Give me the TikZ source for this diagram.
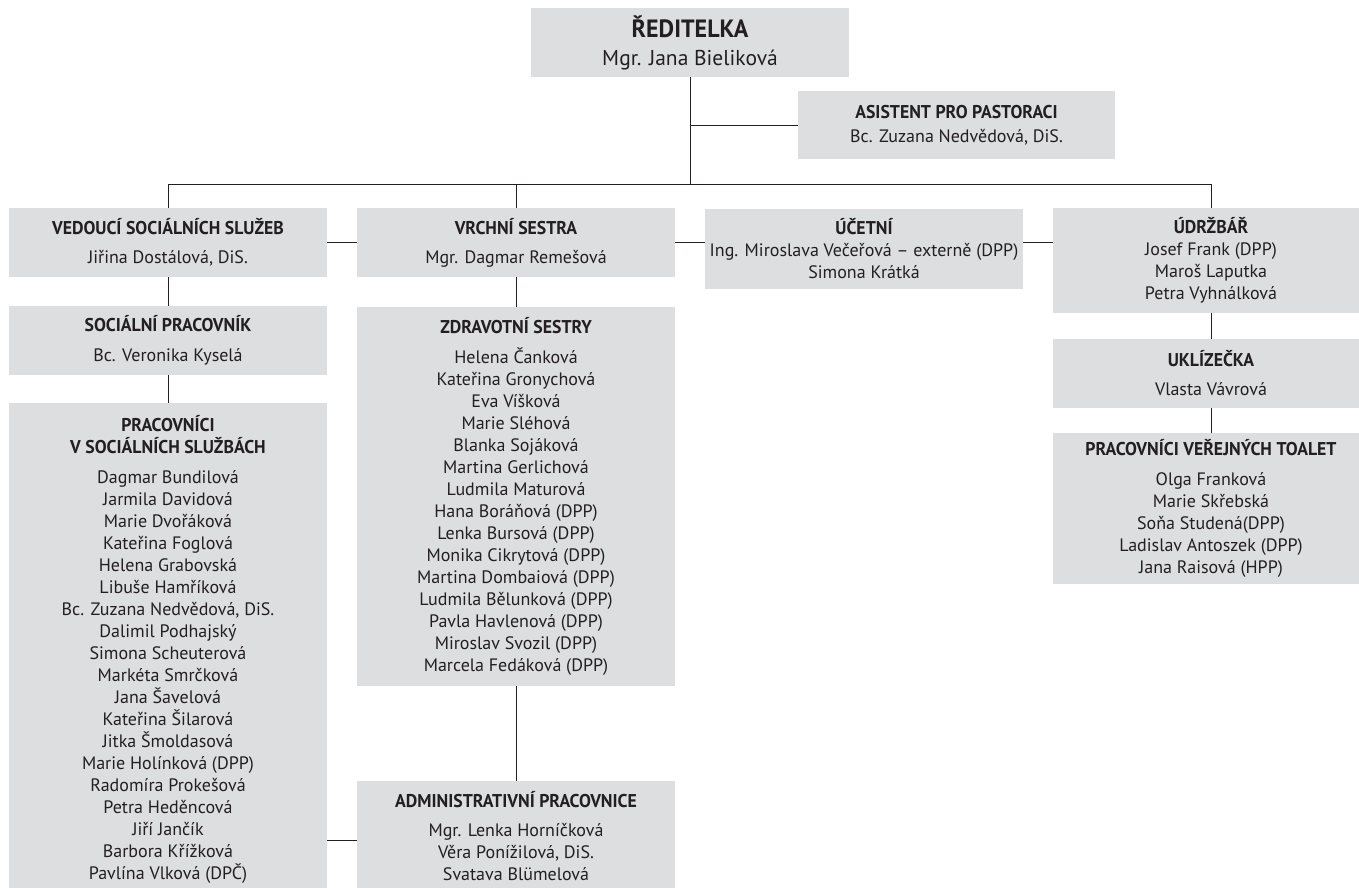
\documentclass[tikz,border=0pt]{standalone}
\usepackage{fontspec}
\setmainfont{PT Sans}
\newfontfamily\hdfont{PT Sans}[FakeStretch=0.96]
\definecolor{boxgray}{RGB}{221,222,224}
\definecolor{ink}{RGB}{35,31,32}
\newcommand\hd[1]{{\hdfont\bfseries\fontsize{18.5}{22}\selectfont #1}}
\newcommand\hdbig[1]{{\hdfont\bfseries\fontsize{25}{28}\selectfont #1}}
\tikzset{
  orgbox/.style={fill=boxgray, inner sep=0pt, minimum width=318pt, align=center, text=ink, font=\fontsize{18}{22}\selectfont},
  link/.style={draw=ink, line width=0.8pt},
}
\begin{document}
\begin{tikzpicture}[x=1pt,y=-1pt]
\useasboundingbox (0,0) rectangle (1359,888);
\clip (0,0) rectangle (1359,888);
% boxes
\node[orgbox, minimum height=69pt, font=\fontsize{21.5}{28}\selectfont] (dir) at (690,42.5) {\hdbig{ŘEDITELKA}\\Mgr. Jana Bieliková};
\node[orgbox, minimum width=317pt, minimum height=68pt] (asist) at (956.5,125) {\hd{ASISTENT PRO PASTORACI}\\[2pt]Bc. Zuzana Nedvědová, DiS.};
\node[orgbox, minimum height=69pt] (vedouci) at (168,242.5) {\hd{VEDOUCÍ SOCIÁLNÍCH SLUŽEB}\\[7pt]Jiřina Dostálová, DiS.};
\node[orgbox, minimum height=69pt] (vrchni) at (516,242.5) {\hd{VRCHNÍ SESTRA}\\[7pt]Mgr. Dagmar Remešová};
\node[orgbox, minimum height=80pt] (ucetni) at (864,249) {\hd{ÚČETNÍ}\\Ing. Miroslava Večeřová – externě (DPP)\\Simona Krátká};
\node[orgbox, minimum width=316pt, minimum height=105pt] (udrzbar) at (1211,260.5) {\hd{ÚDRŽBÁŘ}\\Josef Frank (DPP)\\Maroš Laputka\\Petra Vyhnálková};
\node[orgbox, minimum height=69pt] (socialni) at (168,340.5) {\hd{SOCIÁLNÍ PRACOVNÍK}\\[8pt]Bc. Veronika Kyselá};
\node[orgbox, minimum height=492pt] (pracovnici) at (168,649) {\hd{PRACOVNÍCI}\\\hd{V SOCIÁLNÍCH SLUŽBÁCH}\\[8pt]Dagmar Bundilová\\Jarmila Davidová\\Marie Dvořáková\\Kateřina Foglová\\Helena Grabovská\\Libuše Hamříková\\Bc. Zuzana Nedvědová, DiS.\\Dalimil Podhajský\\Simona Scheuterová\\Markéta Smrčková\\Jana Šavelová\\Kateřina Šilarová\\Jitka Šmoldasová\\Marie Holínková (DPP)\\Radomíra Prokešová\\Petra Heděncová\\Jiří Jančík\\Barbora Křížková\\Pavlína Vlková (DPČ)};
\node[orgbox, minimum height=379pt] (zdrav) at (516,496.5) {\hd{ZDRAVOTNÍ SESTRY}\\[8pt]Helena Čanková\\Kateřina Gronychová\\Eva Víšková\\Marie Sléhová\\Blanka Sojáková\\Martina Gerlichová\\Ludmila Maturová\\Hana Boráňová (DPP)\\Lenka Bursová (DPP)\\Monika Cikrytová (DPP)\\Martina Dombaiová (DPP)\\Ludmila Bělunková (DPP)\\Pavla Havlenová (DPP)\\Miroslav Svozil (DPP)\\Marcela Fedáková (DPP)};
\node[orgbox, minimum height=111pt] (admin) at (516,836.5) {\hd{ADMINISTRATIVNÍ PRACOVNICE}\\[7pt]Mgr. Lenka Horníčková\\Věra Ponížilová, DiS.\\Svatava Blümelová};
\node[orgbox, minimum width=316pt, minimum height=69pt] (ukliz) at (1211,373.5) {\hd{UKLÍZEČKA}\\[7pt]Vlasta Vávrová};
\node[orgbox, minimum width=316pt, minimum height=151pt] (toalet) at (1211,508.5) {\hd{PRACOVNÍCI VEŘEJNÝCH TOALET}\\[8pt]Olga Franková\\Marie Skřebská\\Soňa Studená(DPP)\\Ladislav Antoszek (DPP)\\Jana Raisová (HPP)};
% helper coordinates
\coordinate (jn) at (690,184);
\coordinate (hy) at (0,242);
\coordinate (by) at (0,840);
% connectors
\draw[link] (dir.south) -- (jn);
\draw[link] (dir.south |- asist.west) -- (asist.west);
\draw[link] (vedouci.north |- jn) -- (udrzbar.north |- jn);
\draw[link] (vedouci.north |- jn) -- (vedouci.north);
\draw[link] (vrchni.north |- jn) -- (vrchni.north);
\draw[link] (udrzbar.north |- jn) -- (udrzbar.north);
\draw[link] (vedouci.east |- hy) -- (vrchni.west |- hy);
\draw[link] (vrchni.east |- hy) -- (ucetni.west |- hy);
\draw[link] (ucetni.east |- hy) -- (udrzbar.west |- hy);
\draw[link] (vedouci.south) -- (socialni.north);
\draw[link] (socialni.south) -- (pracovnici.north);
\draw[link] (vrchni.south) -- (zdrav.north);
\draw[link] (zdrav.south) -- (admin.north);
\draw[link] (udrzbar.south) -- (ukliz.north);
\draw[link] (ukliz.south) -- (toalet.north);
\draw[link] (pracovnici.east |- by) -- (admin.west |- by);
\end{tikzpicture}
\end{document}
